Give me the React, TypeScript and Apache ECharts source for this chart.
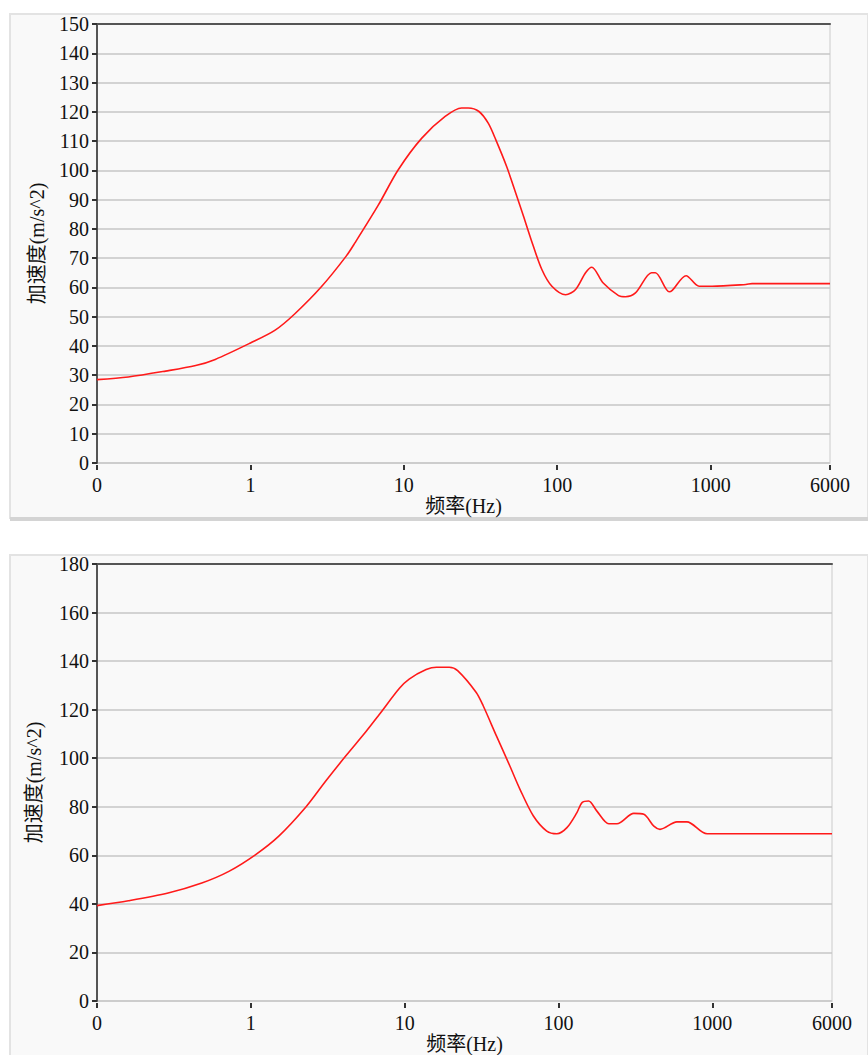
import React, { useEffect, useRef } from "react";
import * as echarts from "echarts";

// Top chart (frequency in Hz, acceleration in m/s^2)
const freqTop = [0.1, 0.16, 0.28, 0.44, 0.59, 1, 1.45, 1.95, 2.9, 4.2, 4.8, 6.8, 9.2, 13.1, 18.6, 23.8, 26.3, 30.9, 35.5, 39.8, 46.8, 53.7, 60.3, 67.6, 79.4, 92.3, 113.5, 131.8, 153, 168, 199.5, 251, 278.6, 323.6, 412, 436.5, 537, 562, 692, 841, 1023, 1698, 1862, 5754, 6000];
const accTop = [28.5, 29.4, 31.4, 33.3, 35.4, 41, 45.4, 51, 60.2, 70.6, 75.2, 88, 100.2, 111, 118.4, 121.3, 121.3, 120.1, 116.1, 110.4, 101.3, 92.2, 84.3, 76.3, 66.1, 60.4, 57.5, 59.3, 65, 66.9, 61.5, 57.2, 56.8, 58.1, 65, 65, 58.5, 59, 64, 60.4, 60.4, 61, 61.3, 61.3, 61.3];

// Bottom chart
const freqBottom = [0.1, 0.16, 0.29, 0.48, 0.72, 1.07, 1.52, 2.28, 3.07, 4.15, 5.61, 6.84, 9.25, 10.7, 13.8, 16.1, 19.5, 22.1, 29.2, 32.4, 39.5, 48.3, 56.2, 68.7, 83.9, 97.7, 113.5, 131.8, 142.2, 157, 177.8, 212.3, 239.9, 309, 358.9, 416.9, 457, 588.8, 683.9, 924.7, 5728, 6000];
const accBottom = [39.3, 41.3, 44.5, 48.6, 53.4, 60.2, 67.9, 79.9, 90.6, 101, 111, 118, 128.8, 132.6, 136.5, 137.5, 137.5, 136.1, 127.1, 121.6, 109.2, 96.8, 87.2, 76.2, 70, 68.9, 71.4, 77.6, 81.7, 82.4, 78.2, 73, 73, 77.3, 76.9, 72, 70.7, 73.8, 73.8, 68.9, 68.9, 68.9];

// Axis settings
const xMinHz = 0.1;
const xMaxHz = 6000;
const yMaxTop = 150;
const yStepTop = 10;
const yMaxBottom = 180;
const yStepBottom = 20;
const xName = "频率(Hz)";
const yName = "加速度(m/s^2)";

const FONT = "'Liberation Serif', 'Times New Roman', 'Noto Sans CJK SC', serif";

function xLabel(v: number): string {
  if (Math.abs(v - Math.log10(xMinHz)) < 1e-6) return "0";
  return String(Math.round(Math.pow(10, v)));
}

export default function App() {
  const ref = useRef<HTMLDivElement>(null);

  useEffect(() => {
    document.body.style.margin = "0";
    const chart = echarts.init(ref.current!, null, { renderer: "svg" });

    const makeX = (gridIndex: number) => ({
      type: "value",
      gridIndex,
      min: Math.log10(xMinHz),
      max: Math.log10(xMaxHz),
      interval: 1,
      offset: 2,
      name: xName,
      nameLocation: "middle",
      nameGap: 31,
      nameTextStyle: { fontFamily: FONT, fontSize: 20, color: "#111" },
      axisLine: { show: false, onZero: false },
      axisTick: { show: true, length: 5, lineStyle: { color: "#333", width: 2 } },
      axisLabel: {
        formatter: xLabel,
        fontFamily: FONT,
        fontSize: 20,
        color: "#111",
        margin: 10,
        showMinLabel: true,
        showMaxLabel: true,
      },
      splitLine: { show: false },
    });

    const makeTopX = (gridIndex: number) => ({
      type: "value",
      gridIndex,
      position: "top",
      min: Math.log10(xMinHz),
      max: Math.log10(xMaxHz),
      interval: 1,
      axisLine: { show: true, onZero: false, lineStyle: { color: "#555", width: 2 } },
      axisTick: { show: false },
      axisLabel: { show: false },
      splitLine: { show: false },
    });

    const makeY = (gridIndex: number, max: number, step: number, gap: number) => ({
      type: "value",
      gridIndex,
      min: 0,
      max,
      interval: step,
      name: yName,
      nameLocation: "middle",
      nameGap: gap,
      nameRotate: 90,
      nameTextStyle: { fontFamily: FONT, fontSize: 20, color: "#111" },
      axisLine: { show: true, onZero: false, lineStyle: { color: "#555", width: 2 } },
      axisTick: { show: true, length: 5, lineStyle: { color: "#333", width: 2 } },
      axisLabel: { fontFamily: FONT, fontSize: 20, color: "#111", margin: 8 },
      splitLine: { show: true, lineStyle: { color: "#c6c6c6", width: 1.5 } },
    });

    const lineStyle = { color: "#ff1a1a", width: 1.6 };

    chart.setOption({
      animation: false,
      backgroundColor: "#ffffff",
      graphic: [
        { type: "rect", z: -10, shape: { x: 10, y: 14, width: 858, height: 504 }, style: { fill: "#f9f9f9", stroke: "#e3e3e3", lineWidth: 2 } },
        { type: "rect", z: -9, shape: { x: 10, y: 517, width: 858, height: 4 }, style: { fill: "#d4d4d4" } },
        { type: "rect", z: -10, shape: { x: 10, y: 555, width: 858, height: 510 }, style: { fill: "#f9f9f9", stroke: "#e3e3e3", lineWidth: 2 } },
      ],
      grid: [
        { left: 97, top: 24, width: 733, height: 439, show: true, borderColor: "#dadada", borderWidth: 1.5, backgroundColor: "transparent" },
        { left: 97, top: 564, width: 735, height: 438, show: true, borderColor: "#dadada", borderWidth: 1.5, backgroundColor: "transparent" },
      ],
      xAxis: [makeX(0), makeX(1), makeTopX(0), makeTopX(1)],
      yAxis: [makeY(0, yMaxTop, yStepTop, 50), makeY(1, yMaxBottom, yStepBottom, 53)],
      series: [
        {
          type: "line",
          xAxisIndex: 0,
          yAxisIndex: 0,
          data: freqTop.map((f, i) => [Math.log10(f), accTop[i]]),
          smooth: 0.3,
          showSymbol: false,
          lineStyle,
        },
        {
          type: "line",
          xAxisIndex: 1,
          yAxisIndex: 1,
          data: freqBottom.map((f, i) => [Math.log10(f), accBottom[i]]),
          smooth: 0.3,
          showSymbol: false,
          lineStyle,
        },
      ],
    });

    return () => chart.dispose();
  }, []);

  return <div ref={ref} style={{ width: 868, height: 1055 }} />;
}
